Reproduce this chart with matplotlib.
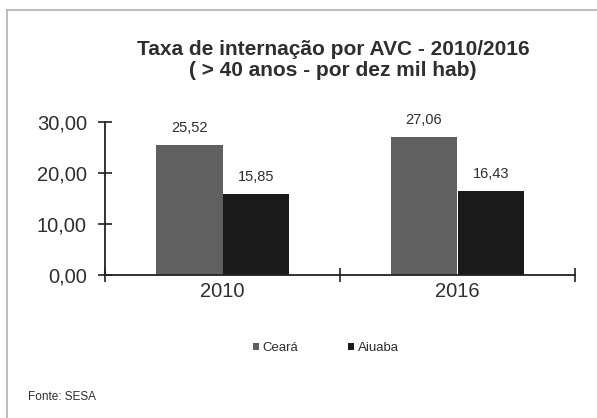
import matplotlib
matplotlib.use("Agg")
import matplotlib.pyplot as plt
import numpy as np
from matplotlib.lines import Line2D

plt.rcParams['font.family'] = ['Liberation Sans', 'DejaVu Sans']

categories = ["2010", "2016"]
series_names = ["Ceará", "Aiuaba"]
ceara = [25.52, 27.06]
aiuaba = [15.85, 16.43]
yticks = [0, 10, 20, 30]
ytick_labels = ["0,00", "10,00", "20,00", "30,00"]

colors = ["#606060", "#1a1a1a"]
text_color = "#2e2e2e"

fig = plt.figure(figsize=(5.97, 4.18), dpi=100)
fig.patch.set_facecolor("white")

# frame lines (top and left)
fig.add_artist(Line2D([7/597, 7/597], [0, 1 - 10/418], color="#b0b0b0", lw=1.2))
fig.add_artist(Line2D([7/597, 1], [1 - 10/418, 1 - 10/418], color="#b0b0b0", lw=1.2))

ax = fig.add_axes([105/597, 1 - 275/418, (575 - 105)/597, (275 - 122)/418])
x = np.arange(len(categories))
w = 0.285
b1 = ax.bar(x - w/2, ceara, width=w, color=colors[0], label=series_names[0])
b2 = ax.bar(x + w/2, aiuaba, width=w, color=colors[1], label=series_names[1])

for bars, vals in ((b1, ceara), (b2, aiuaba)):
    for r, v in zip(bars, vals):
        ax.text(r.get_x() + r.get_width()/2, v + 3.4, f"{v:.2f}".replace(".", ","),
                ha="center", va="center", fontsize=10.5, color=text_color, clip_on=False)

ax.set_xlim(-0.5, 1.5)
ax.set_ylim(0, 30)
ax.set_yticks(yticks)
ax.set_yticklabels(ytick_labels, fontsize=14.5, color=text_color)
ax.set_xticks([-0.5, 0.5, 1.5])
ax.set_xticklabels([])
ax.set_xticks(x, minor=True)
ax.set_xticklabels(categories, minor=True, fontsize=14.5, color=text_color)
ax.tick_params(axis="x", which="minor", length=0, pad=5)
ax.tick_params(axis="x", which="major", direction="inout", length=10, width=1.2, color="#222222")
ax.tick_params(axis="y", direction="inout", length=10, width=1.2, color="#222222", pad=8)
for s in ("top", "right"):
    ax.spines[s].set_visible(False)
for s in ("left", "bottom"):
    ax.spines[s].set_color("#222222")
    ax.spines[s].set_linewidth(1.3)

fig.text(333/597, 1 - 60/418, "Taxa de internação por AVC - 2010/2016\n( > 40 anos - por dez mil hab)",
         ha="center", va="center", fontsize=15, fontweight="bold", color=text_color, linespacing=1.1)

leg = fig.legend(handles=[b1, b2], labels=series_names, loc="center",
                 bbox_to_anchor=(326/597, 1 - 348/418), ncol=2, frameon=False,
                 fontsize=9.5, handlelength=0.45, handleheight=0.45, handletextpad=0.3,
                 columnspacing=3.8)
for t in leg.get_texts():
    t.set_color(text_color)

fig.text(28/597, 1 - 397/418, "Fonte: SESA", ha="left", va="center", fontsize=8.5, color=text_color)

fig.savefig("out.png", dpi=100)
